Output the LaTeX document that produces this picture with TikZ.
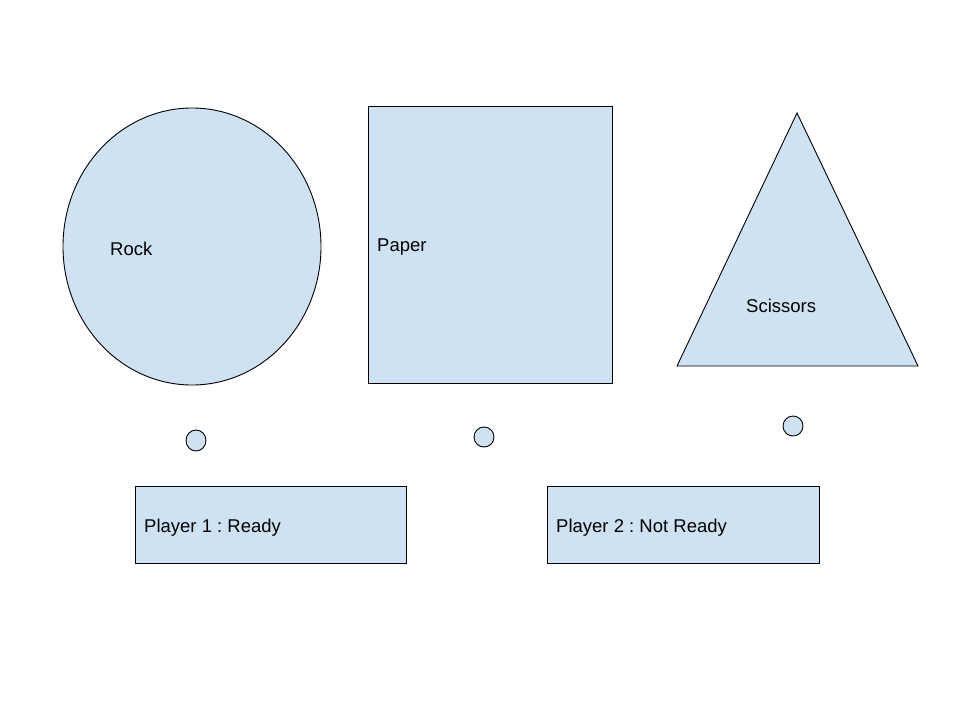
\documentclass[tikz,border=0pt]{standalone}
\usepackage{fontspec}
\setmainfont{Liberation Sans}
\usetikzlibrary{shapes.geometric}
\definecolor{fillblue}{HTML}{CFE2F3}
\frenchspacing
\begin{document}
\begin{tikzpicture}[x=1pt,y=-1pt,
  shapebox/.style={draw=black,fill=fillblue,line width=0.9pt,inner sep=0pt},
  lbl/.style={anchor=west,inner sep=0pt,font=\fontsize{18.5}{22}\selectfont}]
\useasboundingbox (0,0) rectangle (960,720);
\node[shapebox,ellipse,minimum width=258pt,minimum height=277pt] (rock) at (192,246.5) {};
\node[shapebox,rectangle,minimum width=244pt,minimum height=277pt] (paper) at (490,244.5) {};
\coordinate (tA) at (797,113);
\coordinate (tB) at (918,366);
\coordinate (tC) at (677,366);
\draw[shapebox,line join=miter] (tA) -- (tB) -- (tC) -- cycle;
\node[shapebox,ellipse,minimum width=20pt,minimum height=21pt] (c1) at (196,440.5) {};
\node[shapebox,circle,minimum size=20pt] (c2) at (484,437) {};
\node[shapebox,circle,minimum size=20pt] (c3) at (793,426) {};
\node[shapebox,rectangle,minimum width=271pt,minimum height=77pt] (p1) at (270.5,524.5) {};
\node[shapebox,rectangle,minimum width=272pt,minimum height=77pt] (p2) at (683,524.5) {};
\node[lbl] (trock) at (110,248.5) {Rock};
\node[lbl] (tpaper) at (377,247.5) {Paper};
\node[lbl] (tsc) at (746,306) {Scissors};
\node[lbl] (tp1) at (144,527.5) {Player 1 : Ready};
\node[lbl] (tp2) at (556,527.5) {Player 2 : Not Ready};
\end{tikzpicture}
\end{document}
